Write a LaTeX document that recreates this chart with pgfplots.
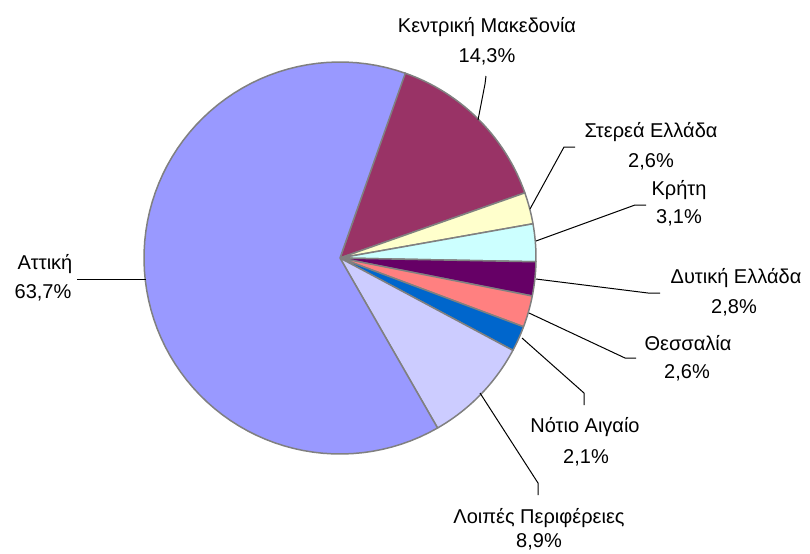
\documentclass[border=0pt]{standalone}
\usepackage{fontspec}
\setmainfont{Liberation Sans}
\usepackage{pgfplots}
\usepackage{pgfplotstable}
\pgfplotsset{compat=1.18}
\definecolor{cAtt}{HTML}{9999FF}
\definecolor{cKM}{HTML}{993366}
\definecolor{cSE}{HTML}{FFFFCC}
\definecolor{cKr}{HTML}{CCFFFF}
\definecolor{cDE}{HTML}{660066}
\definecolor{cTh}{HTML}{FF8080}
\definecolor{cNA}{HTML}{0066CC}
\definecolor{cLP}{HTML}{CCCCFF}
\definecolor{piegray}{HTML}{808080}
% share of each region (%), clockwise order starting at Kentriki Makedonia
\pgfplotstableread{
value color
14.3 cKM
2.6 cSE
3.1 cKr
2.8 cDE
2.6 cTh
2.1 cNA
8.9 cLP
63.7 cAtt
}\piedata
\begin{document}
\begin{tikzpicture}
\begin{axis}[name=pie, x=0.5pt, y=0.5pt, xmin=0, xmax=810, ymin=0, ymax=553,
  y dir=reverse, hide axis, clip=false, scale only axis,
  every node/.style={font=\fontsize{10.7}{12}\selectfont, inner sep=0pt}]
\def\cx{340}\def\cy{258}\def\rr{196}
\gdef\angA{70.9}
\pgfplotsforeachungrouped \i in {0,...,7}{%
  \pgfplotstablegetelem{\i}{value}\of\piedata \let\v\pgfplotsretval
  \pgfplotstablegetelem{\i}{color}\of\piedata \let\c\pgfplotsretval
  \pgfmathsetmacro\angB{\angA-3.6*\v}%
  \edef\temp{\noexpand\addplot[fill=\c, draw=piegray, line width=0.75pt, line join=round,
     domain=\angB:\angA, samples=80, variable=\noexpand\t]
     ({\cx+\rr*cos(\noexpand\t)},{\cy-\rr*sin(\noexpand\t)}) -- (axis cs:\cx,\cy) -- cycle;}%
  \temp
  \global\let\angA\angB
}
% leader lines
\addplot[black, line width=0.5pt] coordinates {(486,76) (485,84) (478,120)};
\addplot[black, line width=0.5pt] coordinates {(575,147) (564,147) (530,209)};
\addplot[black, line width=0.5pt] coordinates {(646,205) (635,205) (536,241)};
\addplot[black, line width=0.5pt] coordinates {(660,293) (648,293) (536,279)};
\addplot[black, line width=0.5pt] coordinates {(636,358) (625,358) (529,313)};
\addplot[black, line width=0.5pt] coordinates {(584,405) (584,393) (522,338)};
\addplot[black, line width=0.5pt] coordinates {(538,495) (538,483) (480,393)};
\addplot[black, line width=0.5pt] coordinates {(77,279) (146,279)};
% labels
\node[anchor=base] at (axis cs:487,32) {Κεντρική Μακεδονία};
\node[anchor=base] at (axis cs:487,62) {14,3\%};
\node[anchor=base] at (axis cs:651,137) {Στερεά Ελλάδα};
\node[anchor=base] at (axis cs:651,167) {2,6\%};
\node[anchor=base] at (axis cs:679,195) {Κρήτη};
\node[anchor=base] at (axis cs:679,223) {3,1\%};
\node[anchor=base] at (axis cs:736,283) {Δυτική Ελλάδα};
\node[anchor=base] at (axis cs:734,313) {2,8\%};
\node[anchor=base] at (axis cs:688,350) {Θεσσαλία};
\node[anchor=base] at (axis cs:687,378) {2,6\%};
\node[anchor=base] at (axis cs:585,432) {Νότιο Αιγαίο};
\node[anchor=base] at (axis cs:586,463) {2,1\%};
\node[anchor=base] at (axis cs:539,523) {Λοιπές Περιφέρειες};
\node[anchor=base] at (axis cs:539,547) {8,9\%};
\node[anchor=base] at (axis cs:45,269) {Αττική};
\node[anchor=base] at (axis cs:43,298) {63,7\%};
\end{axis}
\pgfresetboundingbox
\useasboundingbox (pie.south west) rectangle (pie.north east);
\end{tikzpicture}
\end{document}
